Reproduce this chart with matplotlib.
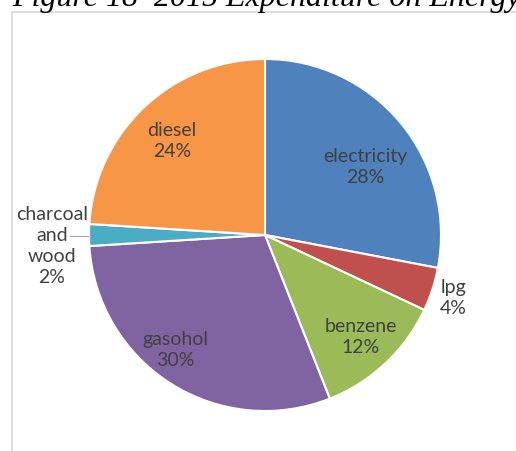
import matplotlib.pyplot as plt
from matplotlib.lines import Line2D

# Energy spending shares, 2015
categories = ['electricity', 'lpg', 'benzene', 'gasohol', 'charcoal\nand\nwood', 'diesel']
shares = [28, 4, 12, 30, 2, 24]
colors = ['#4F81BD', '#C0504D', '#9BBB59', '#8064A2', '#4BACC6', '#F79646']

W, H = 516, 451
fig = plt.figure(figsize=(W / 100, H / 100), dpi=100)
ax = fig.add_axes([0, 0, 1, 1])

cx, cy, r = 265, H - 235, 176
wedges, _ = ax.pie(shares, colors=colors, startangle=90, counterclock=False,
                   center=(cx, cy), radius=r,
                   wedgeprops=dict(edgecolor='white', linewidth=1.5))
ax.set_xlim(0, W)
ax.set_ylim(0, H)
ax.set_aspect('equal')
ax.axis('off')

# chart frame (only the top and left edges fall inside the image)
ax.add_line(Line2D([12, 12], [0, H - 12], color='#d9d9d9', lw=1.2))
ax.add_line(Line2D([12, W], [H - 12, H - 12], color='#d9d9d9', lw=1.2))

# data labels
label_pos = [(365, 167), (453, 298), (361, 337), (175, 350), (52, 246), (172, 141)]
font = dict(family=['Lato', 'DejaVu Sans'], size=14, color='#404040',
            ha='center', va='center', linespacing=1.3)
for name, val, (x, y) in zip(categories, shares, label_pos):
    ax.text(x, H - y, f'{name}\n{val}%', **font)

# leader line for the small slice
ax.add_line(Line2D([70, 88], [H - 236, H - 236], color='#a6a6a6', lw=0.8))

fig.text(12 / W, 1 - 6 / H, 'Figure 18  2015 Expenditure on Energy',
         family='Liberation Serif', style='italic', size=23, va='baseline', ha='left')

fig.savefig('out.png', dpi=100)
